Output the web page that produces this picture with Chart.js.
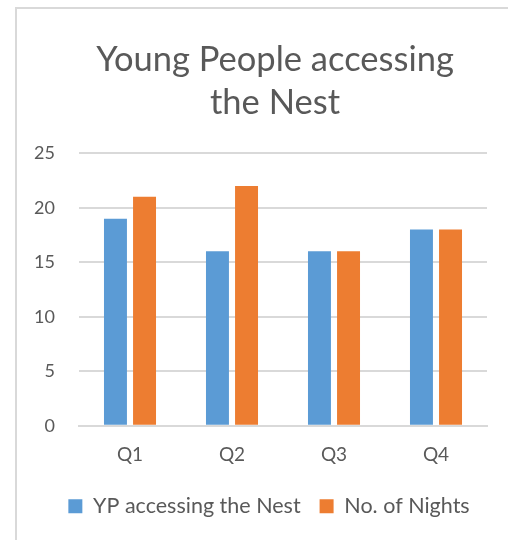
<!DOCTYPE html>
<html>
<head>
<meta charset="utf-8">
<script src="https://cdn.jsdelivr.net/npm/chart.js@4"></script>
<style>
  html, body { margin: 0; padding: 0; background: #fff; }
  #wrap { position: relative; width: 508px; height: 540px; overflow: hidden; }
  #frame { position: absolute; left: 15px; top: 7px; width: 600px; height: 600px;
           border-left: 2px solid #d9d9d9; border-top: 2px solid #d9d9d9; box-sizing: border-box; }
  canvas { position: absolute; left: 0; top: 0; }
</style>
</head>
<body>
<div id="wrap">
  <div id="frame"></div>
  <canvas id="chart" width="508" height="540"></canvas>
</div>
<script>
const quarters = ['Q1', 'Q2', 'Q3', 'Q4']
const ypAccessing = [19, 16, 16, 18]
const noOfNights = [21, 22, 16, 18]
const titleLines = ['Young People accessing', 'the Nest']

const textColor = '#595959'
const gridColor = '#d9d9d9'
const fontFamily = "Lato, 'Open Sans', sans-serif"

// title and legend are not centred on the canvas in the original
const shiftBlocks = {
    id: 'shiftBlocks',
    afterLayout(chart) {
        if (chart.titleBlock) chart.titleBlock.left -= 16
        if (chart.legend) {
            chart.legend.left += 25.5
            chart.legend.right += 25.5
        }
    }
}

new Chart(document.getElementById('chart'), {
    type: 'bar',
    data: {
        labels: quarters,
        datasets: [
            { label: 'YP accessing the Nest', data: ypAccessing, backgroundColor: '#5b9bd5' },
            { label: 'No. of Nights', data: noOfNights, backgroundColor: '#ed7d31' }
        ]
    },
    plugins: [shiftBlocks],
    options: {
        responsive: false,
        animation: false,
        categoryPercentage: 0.57,
        barPercentage: 0.79,
        layout: { padding: { left: 0, right: 21, top: 0, bottom: 13 } },
        plugins: {
            title: {
                display: true,
                fullSize: false,
                text: titleLines,
                color: textColor,
                font: { family: fontFamily, size: 34.5, weight: 'normal', lineHeight: 1.25 },
                padding: { top: 38, bottom: 29 }
            },
            legend: {
                position: 'bottom',
                labels: {
                    color: textColor,
                    font: { family: fontFamily, size: 21.5 },
                    boxWidth: 14,
                    boxHeight: 14,
                    padding: 19
                }
            },
            tooltip: { enabled: false }
        },
        scales: {
            x: {
                grid: { display: false },
                border: { color: gridColor, width: 2 },
                ticks: { color: textColor, font: { family: fontFamily, size: 19 }, padding: 10 }
            },
            y: {
                min: 0,
                max: 25,
                ticks: { stepSize: 5, color: textColor, font: { family: fontFamily, size: 18 }, padding: 24 },
                grid: { color: gridColor, lineWidth: 2, drawTicks: false },
                border: { display: false },
                afterFit: (scale) => { scale.width = 79 }
            }
        }
    }
})
</script>
</body>
</html>
